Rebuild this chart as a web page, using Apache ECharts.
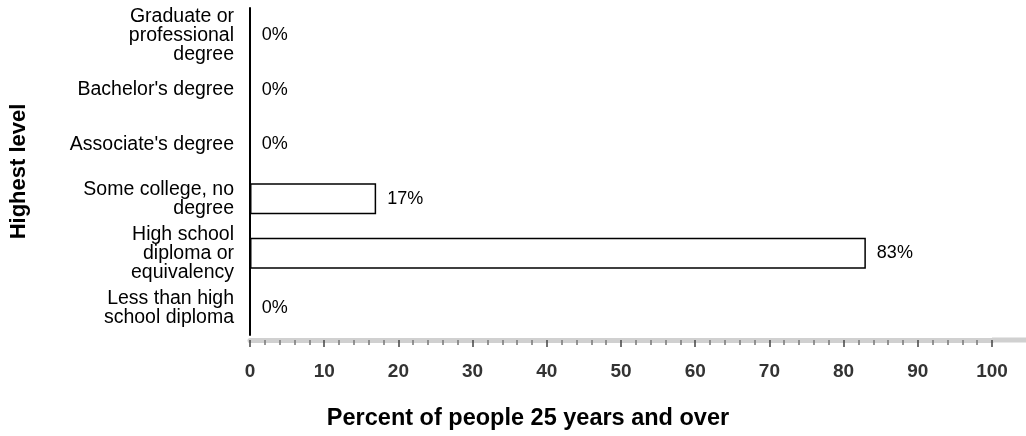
<!DOCTYPE html>
<html><head><meta charset="utf-8">
<script src="https://cdn.jsdelivr.net/npm/echarts@6/dist/echarts.min.js"></script>
<style>html,body{margin:0;padding:0;background:#fff}#c{width:1026px;height:436px}</style>
</head><body><div id="c"></div>
<script>
const categories = [
  "Graduate or\nprofessional\ndegree",
  "Bachelor's degree",
  "Associate's degree",
  "Some college, no\ndegree",
  "High school\ndiploma or\nequivalency",
  "Less than high\nschool diploma"
];
const values = [0, 0, 0, 17, 83, 0];
const xTickLabels = [0, 10, 20, 30, 40, 50, 60, 70, 80, 90, 100];
const xTitle = "Percent of people 25 years and over";
const yTitle = "Highest level";

const FONT = 'Liberation Sans, Arial, sans-serif';
const chart = echarts.init(document.getElementById('c'), null, {renderer: 'canvas'});
chart.setOption({
  animation: false,
  title: {
    text: xTitle, left: 523, textAlign: 'center', top: 402,
    textStyle: {fontFamily: FONT, fontWeight: 'bold', fontSize: 23.5, color: '#000'}
  },
  grid: {left: 250, right: 34, top: 8, bottom: 101, containLabel: false},
  xAxis: {
    type: 'value', min: 0, max: 100, interval: 10,
    offset: 5,
    axisLine: {show: true, lineStyle: {color: '#d0d0d0', width: 5}},
    axisTick: {show: true, length: 7, inside: false, lineStyle: {color: '#444', width: 1.5}},
    minorTick: {show: true, splitNumber: 5, length: 5, lineStyle: {color: '#777', width: 1.5}},
    splitLine: {show: false},
    axisLabel: {
      margin: 22, fontFamily: FONT, fontWeight: 'bold', fontSize: 19, color: '#333',
      formatter: v => xTickLabels.includes(v) ? String(v) : ''
    }
  },
  yAxis: {
    type: 'category', data: categories, inverse: true,
    name: yTitle, nameLocation: 'middle', nameRotate: 90, nameGap: 220,
    nameTextStyle: {fontFamily: FONT, fontWeight: 'bold', fontSize: 22, color: '#000'},
    axisLine: {show: true, lineStyle: {color: '#000', width: 2}},
    axisTick: {show: false},
    axisLabel: {
      margin: 16, fontFamily: FONT, fontSize: 19.5, color: '#000',
      lineHeight: 19, align: 'right'
    }
  },
  graphic: [{
    type: 'rect', silent: true,
    shape: {x: 992, y: 337.5, width: 34, height: 5},
    style: {fill: '#d0d0d0'}
  }],
  series: [{
    type: 'bar', data: values, barWidth: 31,
    itemStyle: {color: '#fff', borderColor: '#000', borderWidth: 1.5},
    label: {
      show: true, position: 'right', distance: 11,
      formatter: p => p.value + '%',
      fontFamily: FONT, fontSize: 18, color: '#000'
    }
  }]
});
</script></body></html>
